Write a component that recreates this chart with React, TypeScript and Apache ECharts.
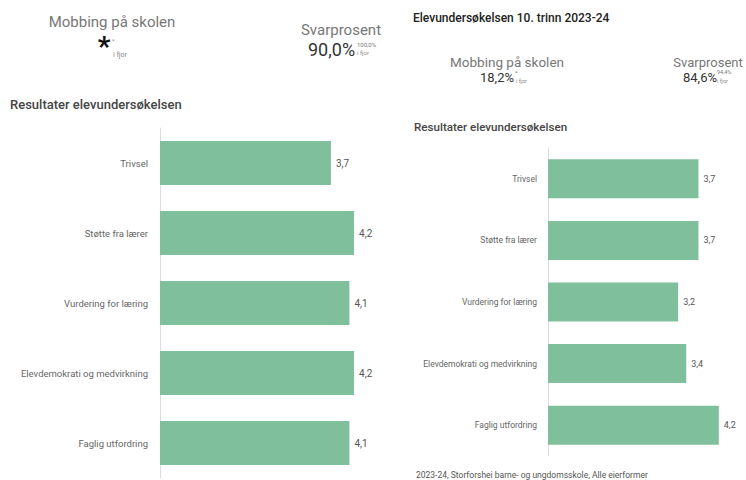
import React, { useEffect, useRef } from "react";
import * as echarts from "echarts";

const categories = [
  "Trivsel",
  "Støtte fra lærer",
  "Vurdering for læring",
  "Elevdemokrati og medvirkning",
  "Faglig utfordring",
];
const leftValues = [3.7, 4.2, 4.1, 4.2, 4.1];
const rightValues = [3.7, 3.7, 3.2, 3.4, 4.2];

const leftHeader = { mobbing: "*", mobbingPrev: "*", svar: "90,0%", svarPrev: "100,0%" };
const rightHeader = { mobbing: "18,2%", mobbingPrev: "*", svar: "84,6%", svarPrev: "94,4%" };

const FONT = "Roboto, 'Noto Sans', sans-serif";
const BAR = "#80bf9c";

function txt(text: string, x: number, y: number, size: number, color: string, extra: any = {}) {
  return {
    type: "text",
    x,
    y,
    style: {
      text,
      fontSize: size,
      fill: color,
      fontFamily: FONT,
      textAlign: extra.align || "left",
      textVerticalAlign: "middle",
      fontWeight: extra.weight || "normal",
    },
  };
}

export default function App() {
  const ref = useRef<HTMLDivElement>(null);
  useEffect(() => {
    document.body.style.margin = "0";
    const chart = echarts.init(ref.current!, null, { renderer: "svg" });
    const fmt = (p: any) => String(p.value).replace(".", ",");
    const yAxisBase = (gridIndex: number, margin: number, size: number) => ({
      type: "category",
      gridIndex,
      data: categories,
      inverse: true,
      axisLine: { show: true, lineStyle: { color: "#dcdcdc", width: 1 } },
      axisTick: { show: false },
      axisLabel: { color: "#666", fontSize: size, fontFamily: FONT, margin },
      splitLine: { show: false },
    });
    const xAxisBase = (gridIndex: number, max: number) => ({
      type: "value",
      gridIndex,
      min: 0,
      max,
      show: false,
    });
    chart.setOption({
      animation: false,
      backgroundColor: "#ffffff",
      grid: [
        { left: 160, top: 128, width: 231, height: 350, containLabel: false },
        { left: 548, top: 148, width: 183, height: 308, containLabel: false },
      ],
      xAxis: [xAxisBase(0, 5), xAxisBase(1, 4.5)],
      yAxis: [yAxisBase(0, 12, 9.5), yAxisBase(1, 11, 8.5)],
      series: [
        {
          type: "bar",
          xAxisIndex: 0,
          yAxisIndex: 0,
          data: leftValues,
          barWidth: 44,
          itemStyle: { color: BAR },
          label: { show: true, position: "right", distance: 5, formatter: fmt, color: "#555", fontSize: 10, fontFamily: FONT },
        },
        {
          type: "bar",
          xAxisIndex: 1,
          yAxisIndex: 1,
          data: rightValues,
          barWidth: 39,
          itemStyle: { color: BAR },
          label: { show: true, position: "right", distance: 5, formatter: fmt, color: "#555", fontSize: 9, fontFamily: FONT },
        },
      ],
      graphic: [
        // left header
        txt("Mobbing på skolen", 112, 22, 15, "#777", { align: "center" }),
        txt(leftHeader.mobbing, 104, 46, 28, "#111", { align: "center", weight: "bold" }),
        txt(leftHeader.mobbingPrev, 112, 40, 6, "#888"),
        txt("i fjor", 113, 55, 7, "#888"),
        txt("Svarprosent", 341, 30, 15, "#777", { align: "center" }),
        txt(leftHeader.svar, 308, 49, 18, "#333"),
        txt(leftHeader.svarPrev, 357, 44, 6, "#777"),
        txt("i fjor", 357, 52, 6, "#888"),
        txt("Resultater elevundersøkelsen", 10, 104, 13, "#444", { weight: 500 }),
        // right header
        txt("Elevundersøkelsen 10. trinn 2023-24", 413, 18, 12, "#222", { weight: 500 }),
        txt("Mobbing på skolen", 507, 62, 13.5, "#777", { align: "center" }),
        txt(rightHeader.mobbing, 480, 77, 13, "#333"),
        txt(rightHeader.mobbingPrev, 515, 72, 6, "#777"),
        txt("i fjor", 516, 81, 5.5, "#888"),
        txt("Svarprosent", 708, 62, 13, "#777", { align: "center" }),
        txt(rightHeader.svar, 683, 77, 13, "#333"),
        txt(rightHeader.svarPrev, 717, 72, 5.5, "#777"),
        txt("i fjor", 717, 81, 5.5, "#888"),
        txt("Resultater elevundersøkelsen", 414, 127, 11.6, "#444", { weight: 500 }),
        txt("2023-24, Storforshei barne- og ungdomsskole, Alle eierformer", 416, 475, 8.5, "#555"),
      ],
    });
    return () => chart.dispose();
  }, []);
  return <div ref={ref} style={{ width: 746, height: 480 }} />;
}
